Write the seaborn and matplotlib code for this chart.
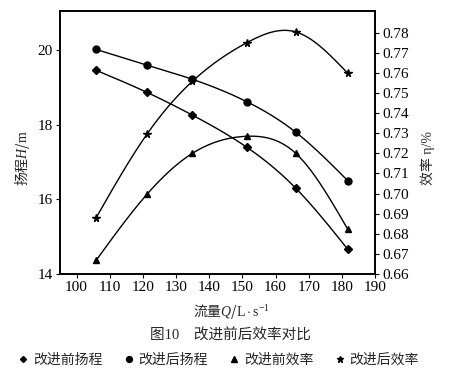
import numpy as np
import matplotlib
matplotlib.use("Agg")
import matplotlib.pyplot as plt
import seaborn as sns
from matplotlib.lines import Line2D

# values
flow = [105.9, 121.2, 134.9, 151.3, 166.1, 181.8]
head_before = [19.46, 18.87, 18.26, 17.40, 16.30, 14.66]
head_after = [20.02, 19.60, 19.22, 18.62, 17.80, 16.50]
eff_before = [0.6668, 0.6996, 0.7200, 0.7285, 0.7200, 0.6822]
eff_after = [0.6880, 0.7295, 0.7558, 0.7750, 0.7804, 0.7598]
labels = ["改进前扬程", "改进后扬程", "改进前效率", "改进后效率"]
x_ticks = [100, 110, 120, 130, 140, 150, 160, 170, 180, 190]
h_ticks = [14, 16, 18, 20]
e_ticks = [0.66, 0.67, 0.68, 0.69, 0.70, 0.71, 0.72, 0.73, 0.74, 0.75, 0.76, 0.77, 0.78]

sns.set_style("ticks")
plt.rcParams['font.family'] = ['Liberation Serif', 'Noto Sans CJK SC']
plt.rcParams['axes.unicode_minus'] = False
# mathtext has no font fallback: the plain part of a math label uses the label's own font
plt.rcParams['mathtext.fontset'] = 'custom'
plt.rcParams['mathtext.rm'] = 'Noto Sans CJK SC'
plt.rcParams['mathtext.sf'] = 'Liberation Serif'
plt.rcParams['mathtext.it'] = 'Liberation Serif:style=italic'


# natural cubic spline, only used to draw the smooth line through the points
def smooth(x, y, n=200):
    x = np.asarray(x, float)
    y = np.asarray(y, float)
    k = len(x)
    h = np.diff(x)
    A = np.zeros((k, k))
    r = np.zeros(k)
    A[0, 0] = A[-1, -1] = 1
    for i in range(1, k - 1):
        A[i, i - 1] = h[i - 1]
        A[i, i] = 2 * (h[i - 1] + h[i])
        A[i, i + 1] = h[i]
        r[i] = 6 * ((y[i + 1] - y[i]) / h[i] - (y[i] - y[i - 1]) / h[i - 1])
    M = np.linalg.solve(A, r)
    xs = np.linspace(x[0], x[-1], n)
    idx = np.clip(np.searchsorted(x, xs) - 1, 0, k - 2)
    x0, x1 = x[idx], x[idx + 1]
    hh = x1 - x0
    ys = (M[idx] * (x1 - xs) ** 3 / (6 * hh) + M[idx + 1] * (xs - x0) ** 3 / (6 * hh)
          + (y[idx] / hh - M[idx] * hh / 6) * (x1 - xs)
          + (y[idx + 1] / hh - M[idx + 1] * hh / 6) * (xs - x0))
    return xs, ys


fig = plt.figure(figsize=(4.56, 3.73), dpi=100)
ax = fig.add_axes([0.1316, 0.2654, 0.6908, 0.7051])
ax2 = ax.twinx()

markers = [("D", 3.6), ("o", 5), ("^", 5), ("*", 5.5)]
series = [(ax, head_before), (ax, head_after), (ax2, eff_before), (ax2, eff_after)]
for (a, ys), (mk, ms) in zip(series, markers):
    sx, sy = smooth(flow, ys)
    sns.lineplot(x=sx, y=sy, ax=a, color="black", lw=1.0, sort=False)
    a.plot(flow, ys, ls="none", marker=mk, ms=ms, color="black")

ax.set_xlim(95, 190)
ax.set_ylim(14, 21.05)
ax2.set_ylim(0.66, 0.7908)
ax.set_xticks(x_ticks)
ax.set_yticks(h_ticks)
ax2.set_yticks(e_ticks)
ax2.set_yticklabels([f"{v:.2f}" for v in e_ticks])

for a in (ax, ax2):
    a.tick_params(direction="out", length=3, width=0.8, labelsize=11, colors="black", pad=2)
    for s in a.spines.values():
        s.set_linewidth(1.2)
        s.set_color("black")

cjk = "Noto Sans CJK SC"
ax.set_xlabel(r"流量$Q/\mathsf{L}\cdot\mathsf{s}^{\mathsf{-1}}$", fontsize=10, family=cjk)
ax.xaxis.set_label_coords(0.545, -0.105)
ax.set_ylabel(r"扬程$H/\mathsf{m}$", fontsize=10, family=cjk)
ax.yaxis.set_label_coords(-0.09, 0.44)
ax2.set_ylabel("效率 η/%", fontsize=10)
ax2.yaxis.set_label_coords(1.145, 0.44)

fig.text(0.505, 0.10, "图10　改进前后效率对比", ha="center", va="center", fontsize=10.5)

handles = [Line2D([], [], ls="none", marker=m, ms=s * 0.85, color="black") for m, s in markers]
fig.legend(handles, labels, loc="center", bbox_to_anchor=(0.48, 0.035), ncol=4,
           frameon=False, fontsize=10, handlelength=0.6, handletextpad=0.4,
           columnspacing=1.6)

fig.savefig("out.png", dpi=100, facecolor="white")
